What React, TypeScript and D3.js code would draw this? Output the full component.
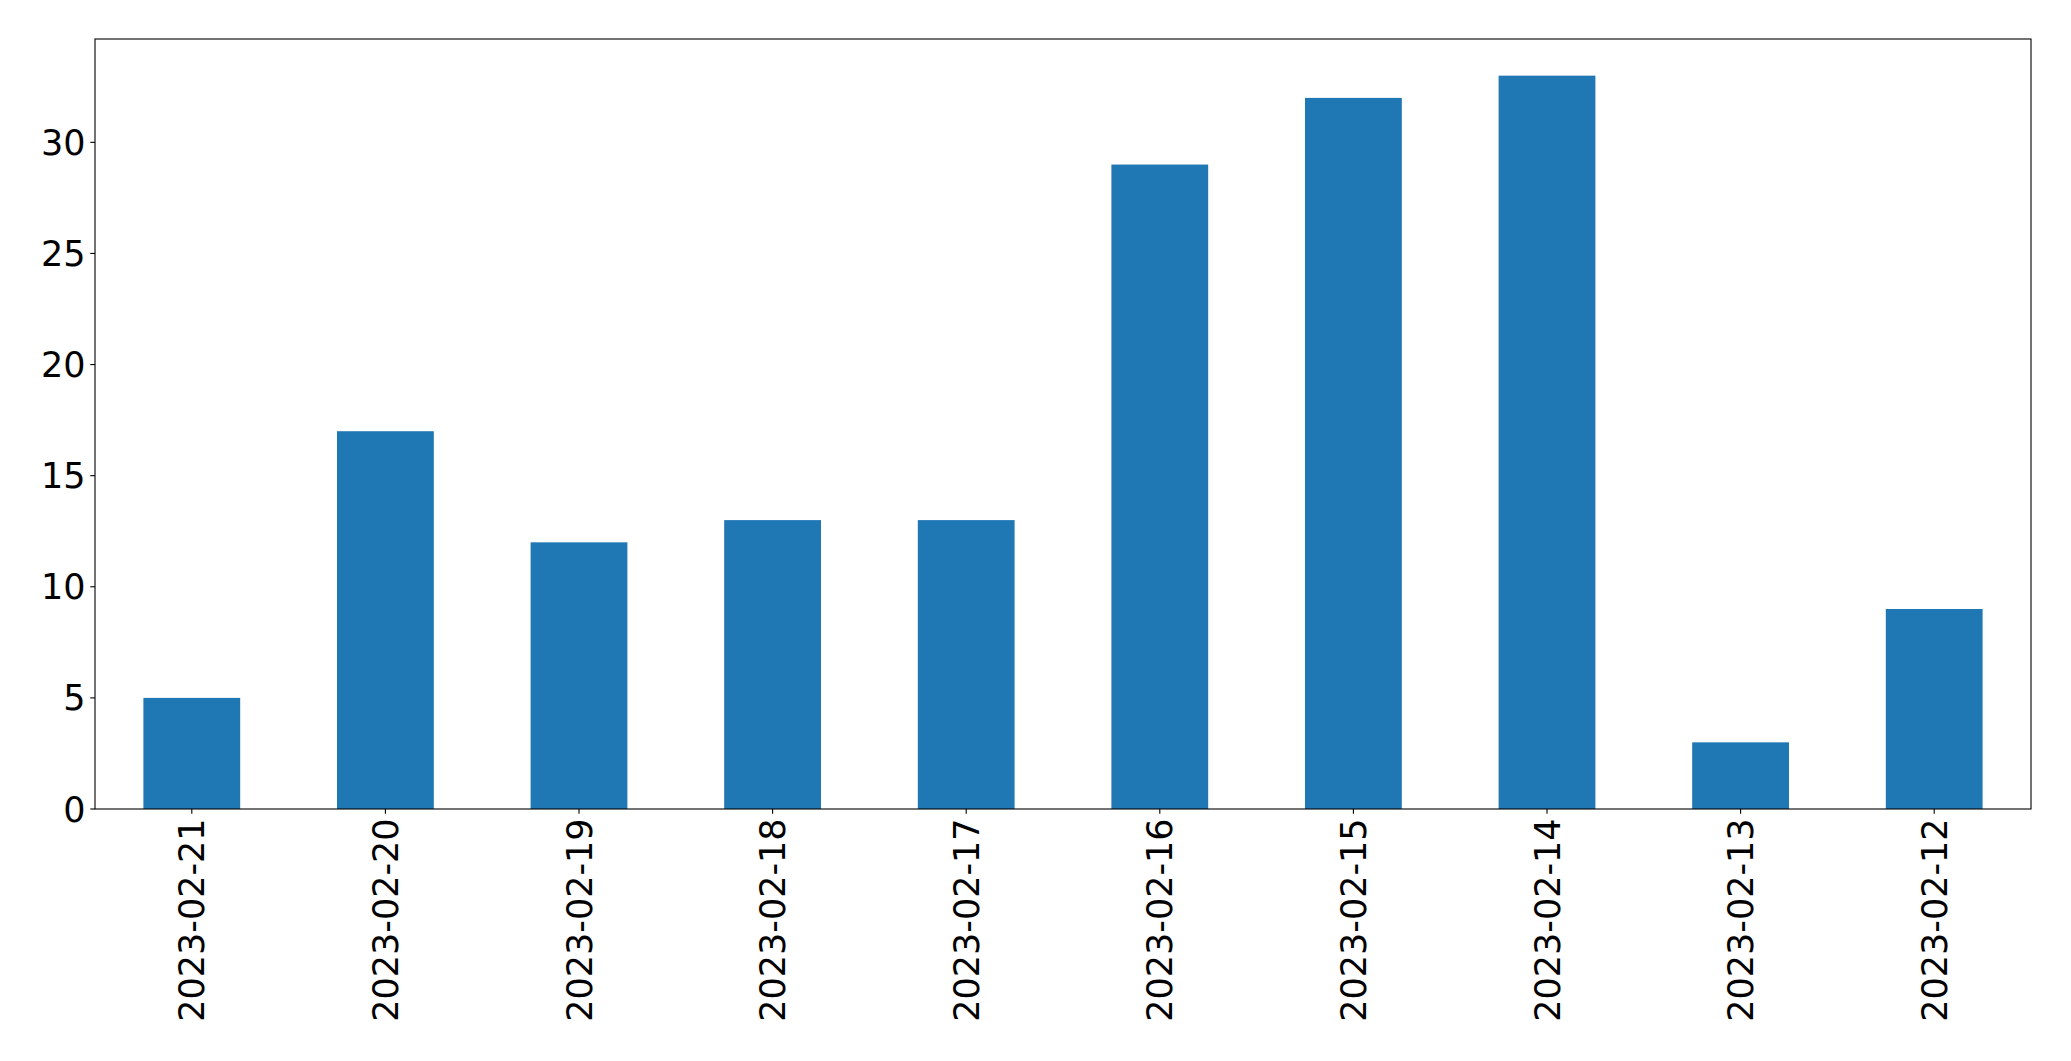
import { FC, useEffect, useRef } from "react";
import * as d3 from "d3";

const dates = [
  "2023-02-21",
  "2023-02-20",
  "2023-02-19",
  "2023-02-18",
  "2023-02-17",
  "2023-02-16",
  "2023-02-15",
  "2023-02-14",
  "2023-02-13",
  "2023-02-12",
];
const counts = [5, 17, 12, 13, 13, 29, 32, 33, 3, 9];
const yTicks = [0, 5, 10, 15, 20, 25, 30];

const App: FC = () => {
  const ref = useRef<HTMLDivElement>(null);

  useEffect(() => {
    const node = draw();
    if (ref.current) {
      ref.current.innerHTML = "";
      ref.current.appendChild(node);
    }
  }, []);

  return <div ref={ref}></div>;
};

function draw(): SVGSVGElement {
  const width = 2071;
  const height = 1061;
  const m = { left: 95, top: 39, right: 2031, bottom: 809 };
  const fontSize = 35;
  const tickLen = 4.7;
  const pad = 4.7;

  const x = d3
    .scaleLinear()
    .domain([-0.5, dates.length - 0.5])
    .range([m.left, m.right]);
  const yMax = d3.max(counts) * 1.05;
  const y = d3.scaleLinear().domain([0, yMax]).range([m.bottom, m.top]);
  const barW = x(0.25) - x(-0.25);

  const svg = d3
    .create("svg")
    .attr("width", width)
    .attr("height", height)
    .attr("viewBox", [0, 0, width, height])
    .style("position", "absolute")
    .style("left", "0px")
    .style("top", "0px")
    .style("background", "#fff")
    .attr("font-family", "'DejaVu Sans', sans-serif");

  svg
    .append("g")
    .selectAll("rect")
    .data(counts)
    .join("rect")
    .attr("x", (d, i) => x(i) - barW / 2)
    .attr("y", (d) => y(d))
    .attr("width", barW)
    .attr("height", (d) => y(0) - y(d))
    .attr("fill", "#1f77b4");

  // frame
  svg
    .append("rect")
    .attr("x", m.left)
    .attr("y", m.top)
    .attr("width", m.right - m.left)
    .attr("height", m.bottom - m.top)
    .attr("fill", "none")
    .attr("stroke", "#000")
    .attr("stroke-width", 1.1);

  // y ticks
  const yt = svg
    .append("g")
    .selectAll("g")
    .data(yTicks)
    .join("g")
    .attr("transform", (d) => `translate(${m.left},${y(d)})`);
  yt.append("line")
    .attr("x1", -tickLen)
    .attr("x2", 0)
    .attr("stroke", "#000")
    .attr("stroke-width", 1.1);
  yt.append("text")
    .attr("x", -tickLen - pad)
    .attr("dy", "0.36em")
    .attr("text-anchor", "end")
    .attr("font-size", fontSize)
    .text((d) => d);

  // x ticks
  const xt = svg
    .append("g")
    .selectAll("g")
    .data(dates)
    .join("g")
    .attr("transform", (d, i) => `translate(${x(i)},${m.bottom})`);
  xt.append("line")
    .attr("y1", 0)
    .attr("y2", tickLen)
    .attr("stroke", "#000")
    .attr("stroke-width", 1.1);
  xt.append("text")
    .attr("transform", `translate(0,${tickLen + pad}) rotate(-90)`)
    .attr("dy", "0.36em")
    .attr("text-anchor", "end")
    .attr("font-size", fontSize)
    .text((d) => d);

  return svg.node();
}

export default App;
